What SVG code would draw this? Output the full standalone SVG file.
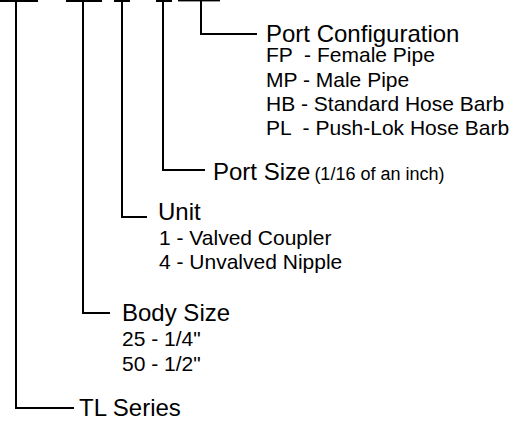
<svg xmlns="http://www.w3.org/2000/svg" width="525" height="421" viewBox="0 0 525 421">
<style>
.ln{fill:none;stroke:#000;stroke-width:2;stroke-linejoin:miter;stroke-linecap:butt}
.bar{fill:#000}
.t{font-family:"Liberation Sans",Arial,Helvetica,sans-serif;font-size:24px;fill:#000}
.s{font-family:"Liberation Sans",Arial,Helvetica,sans-serif;font-size:21px;fill:#000}
.p{font-family:"Liberation Sans",Arial,Helvetica,sans-serif;font-size:18px;fill:#000}
</style>
<rect width="525" height="421" fill="#fff"/>
<g id="connectors">
<rect class="bar" x="0" y="0" width="38" height="2"/>
<rect class="bar" x="66" y="0" width="36" height="2"/>
<rect class="bar" x="114" y="0" width="16" height="2"/>
<rect class="bar" x="156" y="0" width="16" height="2"/>
<rect class="bar" x="178" y="0" width="42" height="1.4"/>
<path class="ln" d="M16,0 V408 H74"/>
<path class="ln" d="M83,0 V313 H110"/>
<path class="ln" d="M122,0 V217 H147"/>
<path class="ln" d="M163,0 V170 H205"/>
<path class="ln" d="M201,0 V34 H257"/>
</g>
<g id="port-configuration">
<text class="t" x="266" y="42">Port Configuration</text>
<text class="s" x="266" y="62" xml:space="preserve">FP  - Female Pipe</text>
<text class="s" x="266" y="87">MP - Male Pipe</text>
<text class="s" x="266" y="111">HB - Standard Hose Barb</text>
<text class="s" x="266" y="135" xml:space="preserve">PL  - Push-Lok Hose Barb</text>
</g>
<g id="port-size">
<text x="213" y="180"><tspan class="t">Port Size</tspan><tspan class="p" dx="4">(1/16 of an inch)</tspan></text>
</g>
<g id="unit">
<text class="t" x="158" y="220">Unit</text>
<text class="s" x="159" y="245">1 - Valved Coupler</text>
<text class="s" x="159" y="269">4 - Unvalved Nipple</text>
</g>
<g id="body-size">
<text class="t" x="122" y="321">Body Size</text>
<text class="s" x="122" y="346">25 - 1/4"</text>
<text class="s" x="122" y="371">50 - 1/2"</text>
</g>
<g id="tl-series">
<text class="t" x="79" y="416">TL Series</text>
</g>
</svg>
